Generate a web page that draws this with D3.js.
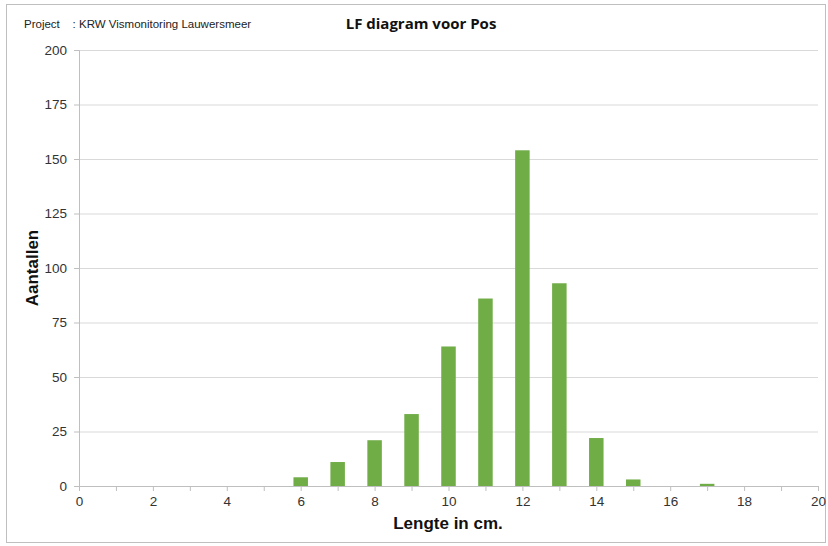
<!DOCTYPE html>
<html>
<head>
<meta charset="utf-8">
<script src="https://cdn.jsdelivr.net/npm/d3@7"></script>
<style>
  body { margin: 0; background: #fff; }
  svg { font-family: "Liberation Sans", Arial, sans-serif; }
</style>
</head>
<body>
<svg width="828" height="546"></svg>
<script>
// lengteklassen (cm) en aantallen
const lengths = [6, 7, 8, 9, 10, 11, 12, 13, 14, 15, 17]
const counts  = [4, 11, 21, 33, 64, 86, 154, 93, 22, 3, 1]
const xTicks = [0, 2, 4, 6, 8, 10, 12, 14, 16, 18, 20]
const yTicks = [0, 25, 50, 75, 100, 125, 150, 175, 200]

const data = lengths.map((l, i) => ({ lengte: l, aantal: counts[i] }))

const margin = { top: 50, right: 10, bottom: 60, left: 79 }
const w = 818 - margin.left
const h = 486 - margin.top

const xScale = d3.scaleLinear().domain([0, 20]).range([0, w])
const yScale = d3.scaleLinear().domain([0, 200]).range([h, 0])

const svg = d3.select('svg')

svg.append('rect')
  .attr('x', 6.5).attr('y', 4.5)
  .attr('width', 819).attr('height', 538)
  .attr('fill', 'none').attr('stroke', '#bfbfbf')

svg.append('text')
  .attr('x', 24).attr('y', 28)
  .attr('font-size', 11.5).attr('fill', '#222')
  .attr('xml:space', 'preserve')
  .text('Project    : KRW Vismonitoring Lauwersmeer')

svg.append('text')
  .attr('x', 421).attr('y', 29)
  .attr('text-anchor', 'middle')
  .attr('font-family', '"Open Sans", sans-serif')
  .attr('font-weight', 'bold').attr('font-size', 15)
  .attr('fill', '#111')
  .text('LF diagram voor Pos')

const g = svg.append('g')
  .attr('transform', `translate(${margin.left},${margin.top})`)

// gridlines
g.append('g').selectAll('line')
  .data(yTicks.filter(d => d > 0))
  .enter().append('line')
  .attr('x1', 0).attr('x2', w)
  .attr('y1', d => yScale(d) + 0.5).attr('y2', d => yScale(d) + 0.5)
  .attr('stroke', '#d9d9d9')

// y axis
const yAxis = g.append('g')
  .call(d3.axisLeft(yScale).tickValues(yTicks).tickSize(5).tickPadding(7))
yAxis.select('.domain').attr('stroke', '#bfbfbf')
yAxis.selectAll('line').attr('stroke', '#bfbfbf')
yAxis.selectAll('text').attr('font-size', 13.5).attr('fill', '#333')
  .attr('font-family', '"Liberation Sans", Arial, sans-serif')

// x axis with minor ticks each unit
const xAxisMinor = g.append('g')
  .attr('transform', `translate(0,${h})`)
  .call(d3.axisBottom(xScale).ticks(20).tickSize(5).tickFormat(''))
xAxisMinor.select('.domain').attr('stroke', '#bfbfbf')
xAxisMinor.selectAll('line').attr('stroke', '#bfbfbf')

const xAxis = g.append('g')
  .attr('transform', `translate(0,${h})`)
  .call(d3.axisBottom(xScale).tickValues(xTicks).tickSize(0).tickPadding(10))
xAxis.select('.domain').remove()
xAxis.selectAll('text').attr('font-size', 13.5).attr('fill', '#333')
  .attr('font-family', '"Liberation Sans", Arial, sans-serif')

// bars
const bw = 14.5
g.selectAll('.bar')
  .data(data)
  .enter()
  .append('rect')
  .classed('bar', true)
  .attr('x', d => xScale(d.lengte) - bw / 2)
  .attr('y', d => yScale(d.aantal))
  .attr('width', bw)
  .attr('height', d => h - yScale(d.aantal))
  .attr('fill', '#70ad47')

// axis titles
svg.append('text')
  .attr('x', 448).attr('y', 529)
  .attr('text-anchor', 'middle')
  .attr('font-weight', 'bold').attr('font-size', 17)
  .attr('fill', '#111')
  .text('Lengte in cm.')

svg.append('text')
  .attr('transform', 'translate(38,268) rotate(-90)')
  .attr('text-anchor', 'middle')
  .attr('font-weight', 'bold').attr('font-size', 17)
  .attr('fill', '#111')
  .text('Aantallen')
</script>
</body>
</html>
